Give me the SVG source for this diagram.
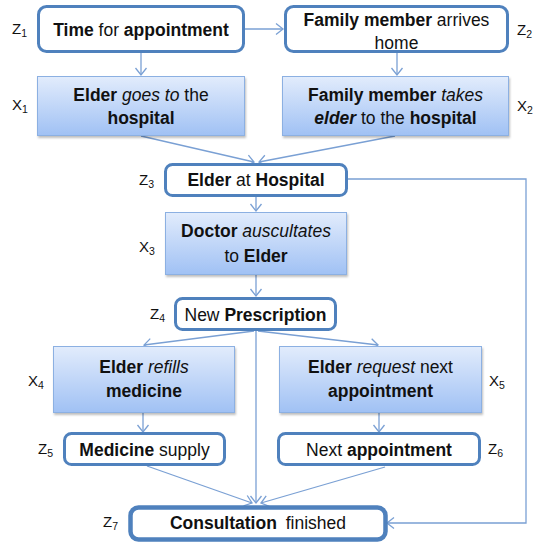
<svg xmlns="http://www.w3.org/2000/svg" width="533" height="542" viewBox="0 0 533 542">
<defs>
<linearGradient id="g" x1="0" y1="0" x2="0" y2="1">
<stop offset="0" stop-color="#e2ecfc"/>
<stop offset="1" stop-color="#a0c1f4"/>
</linearGradient>
<filter id="sh" x="-10%" y="-10%" width="120%" height="130%">
<feDropShadow dx="1" dy="2" stdDeviation="1.2" flood-color="#000" flood-opacity="0.25"/>
</filter>
<marker id="a" markerUnits="userSpaceOnUse" markerWidth="16" markerHeight="16" viewBox="-10 -8 12 16" refX="0" refY="0" orient="auto">
<path d="M-7,-5.5 L0,0 L-7,5.5" fill="none" stroke="#7aa0d4" stroke-width="1.3"/>
</marker>
</defs>
<style>
.z{fill:#fff;stroke:#4f81bd;stroke-width:3}
.x{fill:url(#g);stroke:#8cb0e2;stroke-width:1;filter:url(#sh)}
.t{font-family:"Liberation Sans",Arial,sans-serif;font-size:17.5px;fill:#111;text-anchor:middle}
.b{font-weight:bold}
.i{font-style:italic}
.l{font-family:"Liberation Sans",Arial,sans-serif;font-size:15px;fill:#111}
.s{font-size:10.5px}
.c{fill:none;stroke:#7aa0d4;stroke-width:1.3}
</style>

<g id="connectors">
<path class="c" d="M245,29 L283,29" marker-end="url(#a)"/>
<path class="c" d="M141,53 L141,75" marker-end="url(#a)"/>
<path class="c" d="M397,53 L397,75" marker-end="url(#a)"/>
<path class="c" d="M141,136 L254,162" marker-end="url(#a)"/>
<path class="c" d="M395,136 L259,162" marker-end="url(#a)"/>
<path class="c" d="M256,197 L256,211" marker-end="url(#a)"/>
<path class="c" d="M256,275 L256,296" marker-end="url(#a)"/>
<path class="c" d="M254,331 L144,345" marker-end="url(#a)"/>
<path class="c" d="M258,331 L378,345" marker-end="url(#a)"/>
<path class="c" d="M256,331 L256,503" marker-end="url(#a)"/>
<path class="c" d="M143,412 L143,432" marker-end="url(#a)"/>
<path class="c" d="M379,413 L379,432" marker-end="url(#a)"/>
<path class="c" d="M147,466 L252,503" marker-end="url(#a)"/>
<path class="c" d="M385,467 L261,503" marker-end="url(#a)"/>
<path class="c" d="M348,179 L526,179 L526,523 L387,523" marker-end="url(#a)"/>
</g>

<g id="z1">
<rect class="z" x="38.5" y="6.5" width="205" height="45" rx="8"/>
<text class="t" x="141" y="36"><tspan class="b">Time</tspan> for <tspan class="b">appointment</tspan></text>
<text class="l" x="12" y="34">Z<tspan class="s" dy="3">1</tspan></text>
</g>

<g id="z2">
<rect class="z" x="285.5" y="6.5" width="222" height="45" rx="8"/>
<text class="t" x="396.5" y="26"><tspan class="b">Family member</tspan> arrives</text>
<text class="t" x="396.5" y="49">home</text>
<text class="l" x="517" y="35">Z<tspan class="s" dy="3">2</tspan></text>
</g>

<g id="x1">
<rect class="x" x="37.5" y="76.5" width="207" height="59"/>
<text class="t" x="141" y="101"><tspan class="b">Elder</tspan> <tspan class="i">goes to</tspan> the</text>
<text class="t b" x="141" y="124">hospital</text>
<text class="l" x="12" y="110">X<tspan class="s" dy="3">1</tspan></text>
</g>

<g id="x2">
<rect class="x" x="282.5" y="76.5" width="226" height="59"/>
<text class="t" x="395.5" y="101"><tspan class="b">Family member</tspan> <tspan class="i">takes</tspan></text>
<text class="t" x="395.5" y="124"><tspan class="b i">elder</tspan> to the <tspan class="b">hospital</tspan></text>
<text class="l" x="517" y="111">X<tspan class="s" dy="3">2</tspan></text>
</g>

<g id="z3">
<rect class="z" x="165.5" y="164.5" width="181" height="31" rx="7"/>
<text class="t" x="256" y="186"><tspan class="b">Elder</tspan> at <tspan class="b">Hospital</tspan></text>
<text class="l" x="139" y="185">Z<tspan class="s" dy="3">3</tspan></text>
</g>

<g id="x3">
<rect class="x" x="165.5" y="212.5" width="181" height="62"/>
<text class="t" x="256" y="237"><tspan class="b">Doctor</tspan> <tspan class="i">auscultates</tspan></text>
<text class="t" x="256" y="262">to <tspan class="b">Elder</tspan></text>
<text class="l" x="139" y="252">X<tspan class="s" dy="3">3</tspan></text>
</g>

<g id="z4">
<rect class="z" x="175.5" y="298.5" width="160" height="31" rx="7"/>
<text class="t" x="255.5" y="321">New <tspan class="b">Prescription</tspan></text>
<text class="l" x="150" y="319">Z<tspan class="s" dy="3">4</tspan></text>
</g>

<g id="x4">
<rect class="x" x="53.5" y="346.5" width="181" height="66"/>
<text class="t" x="144" y="373"><tspan class="b">Elder</tspan> <tspan class="i">refills</tspan></text>
<text class="t b" x="144" y="397">medicine</text>
<text class="l" x="28" y="386">X<tspan class="s" dy="3">4</tspan></text>
</g>

<g id="x5">
<rect class="x" x="279.5" y="346.5" width="202" height="66"/>
<text class="t" x="380.5" y="373"><tspan class="b">Elder</tspan> <tspan class="i">request</tspan> next</text>
<text class="t b" x="380.5" y="397">appointment</text>
<text class="l" x="489" y="386">X<tspan class="s" dy="3">5</tspan></text>
</g>

<g id="z5">
<rect class="z" x="64.5" y="433.5" width="160" height="31" rx="7"/>
<text class="t" x="144.5" y="456"><tspan class="b">Medicine</tspan> supply</text>
<text class="l" x="38" y="454">Z<tspan class="s" dy="3">5</tspan></text>
</g>

<g id="z6">
<rect class="z" x="278.5" y="433.5" width="201" height="31" rx="7"/>
<text class="t" x="379" y="456">Next <tspan class="b">appointment</tspan></text>
<text class="l" x="488" y="454">Z<tspan class="s" dy="3">6</tspan></text>
</g>

<g id="z7">
<rect class="z" x="130.5" y="507.5" width="255" height="32" rx="8" style="stroke-width:4.5"/>
<text class="t" x="258" y="529"><tspan class="b">Consultation</tspan>  <tspan dx="4">finished</tspan></text>
<text class="l" x="103" y="527">Z<tspan class="s" dy="3">7</tspan></text>
</g>
</svg>
